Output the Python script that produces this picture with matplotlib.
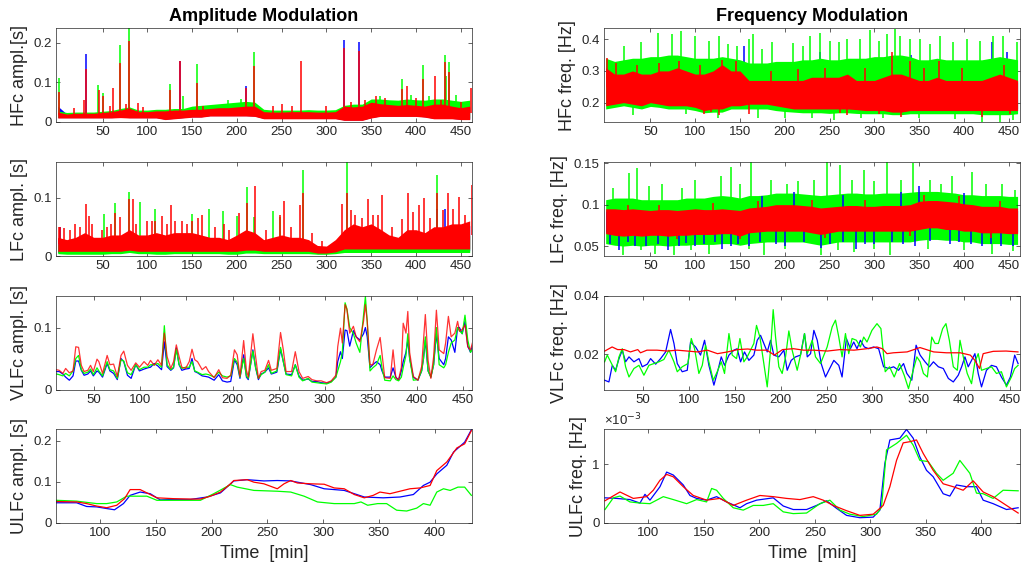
import numpy as np
import matplotlib
matplotlib.use("Agg")
import matplotlib.pyplot as plt
from matplotlib.ticker import FormatStrFormatter

plt.rcParams["font.family"] = ["Liberation Sans", "DejaVu Sans"]

BLUE = (0, 0, 1)
GREEN = (0, 1, 0)
RED = (1, 0, 0)
INK = "#262626"

# ---- noisy components: band edges read every 10 min (0..460) ----
t_band = np.arange(0, 461, 10)

# HFc amplitude [s]
hfa_r_lo = [.010, .010, .010, .010, .010, .010, .010, .011, .010, .010,
            .010, .010, .006, .008, .010, .012, .012, .015, .015, .015,
            .015, .015, .014, .008, .008, .008, .008, .008, .008, .008,
            .008, .008, .004, .004, .004, .010, .014, .014, .014, .014,
            .014, .012, .008, .008, .008, .006, .006]
hfa_r_hi = [.025, .020, .022, .022, .022, .024, .026, .030, .035, .026,
            .026, .028, .028, .030, .030, .032, .032, .034, .036, .036,
            .038, .040, .040, .026, .025, .025, .026, .026, .026, .025,
            .025, .026, .040, .038, .040, .050, .046, .044, .042, .044,
            .042, .040, .045, .045, .040, .036, .040]
hfa_g_lo = [.012, .012, .012, .012, .012, .012, .012, .013, .012, .012,
            .012, .012, .008, .010, .012, .015, .016, .018, .018, .018,
            .018, .018, .016, .010, .010, .010, .010, .010, .010, .010,
            .010, .010, .008, .008, .008, .014, .018, .018, .018, .016,
            .016, .014, .012, .012, .010, .010, .010]
hfa_g_hi = [.028, .024, .025, .025, .025, .027, .029, .034, .038, .030,
            .030, .032, .032, .034, .034, .040, .042, .044, .046, .048,
            .050, .052, .050, .032, .030, .030, .030, .030, .031, .030,
            .030, .031, .042, .045, .045, .058, .058, .056, .055, .058,
            .056, .055, .058, .058, .055, .052, .055]
hfa_b_lo = [.011, .011, .011, .011, .011, .011, .011, .012, .011, .011,
            .011, .011, .007, .009, .011, .013, .013, .016, .016, .016,
            .016, .016, .015, .009, .009, .009, .009, .009, .009, .009,
            .009, .009, .005, .005, .005, .011, .015, .015, .015, .015,
            .015, .013, .009, .009, .009, .007, .007]
hfa_b_hi = [.040, .020, .020, .020, .020, .022, .024, .028, .032, .024,
            .024, .026, .026, .028, .028, .030, .030, .032, .034, .034,
            .036, .038, .038, .024, .023, .023, .024, .024, .024, .023,
            .023, .024, .038, .036, .038, .046, .044, .042, .040, .042,
            .040, .038, .042, .042, .038, .034, .038]
hfa_r_spk = [(1, .075), (29, .055), (32, .134), (46, .080), (50, .065), (62, .085),
             (69, .149), (80, .203), (90, .048), (125, .080), (137, .153), (155, .098),
             (210, .085), (219, .140), (272, .153), (320, .187), (336, .179), (384, .083),
             (390, .090), (408, .109), (421, .115), (432, .151), (437, .125), (461, .085),
             (18, .035), (58, .040), (76, .045), (95, .038), (162, .040), (240, .040),
             (250, .045), (262, .040), (300, .040), (327, .050), (343, .055), (355, .065),
             (365, .060), (400, .060), (428, .055), (450, .050)]
hfa_g_spk = [(1, .110), (45, .093), (50, .072), (69, .194), (80, .236), (125, .095),
             (140, .065), (155, .147), (219, .176), (384, .108), (408, .143), (432, .168),
             (434, .117), (437, .151), (445, .068), (190, .055), (205, .058), (360, .065),
             (395, .068), (415, .065)]
hfa_b_spk = [(32, .172), (137, .155), (210, .090), (320, .207), (336, .202)]

# LFc amplitude [s]
lfa_r_lo = [.008, .008, .008, .008, .008, .008, .008, .008, .010, .008,
            .008, .008, .008, .008, .008, .008, .008, .008, .008, .008,
            .008, .010, .010, .008, .008, .008, .008, .008, .008, .005,
            .005, .007, .012, .012, .012, .012, .012, .012, .012, .012,
            .012, .012, .012, .012, .012, .012, .012]
lfa_r_hi = [.032, .028, .032, .040, .032, .032, .036, .036, .045, .036,
            .036, .040, .036, .040, .040, .040, .036, .032, .032, .028,
            .036, .045, .040, .028, .032, .036, .032, .032, .028, .018,
            .017, .028, .045, .055, .050, .055, .046, .036, .032, .045,
            .045, .040, .050, .050, .055, .055, .060]
lfa_g_lo = [.004, .003, .003, .003, .003, .003, .004, .004, .006, .004,
            .004, .003, .003, .004, .004, .004, .004, .004, .004, .003,
            .003, .005, .005, .004, .004, .004, .004, .004, .004, .003,
            .003, .004, .006, .006, .006, .006, .006, .006, .006, .006,
            .006, .006, .006, .006, .006, .006, .006]
lfa_g_hi = [.020, .016, .018, .022, .018, .018, .020, .020, .030, .020,
            .020, .022, .020, .022, .022, .022, .020, .018, .018, .016,
            .020, .025, .022, .016, .018, .020, .018, .018, .016, .012,
            .012, .016, .025, .030, .028, .030, .028, .025, .022, .028,
            .028, .025, .030, .030, .032, .032, .035]
lfa_b_lo = [.006, .005, .005, .005, .005, .005, .006, .006, .008, .006,
            .006, .005, .005, .006, .006, .006, .006, .006, .006, .005,
            .005, .007, .007, .006, .006, .006, .006, .006, .006, .004,
            .004, .006, .009, .009, .009, .009, .009, .009, .009, .009,
            .009, .009, .009, .009, .009, .009, .009]
lfa_b_hi = [.030, .024, .028, .034, .028, .028, .030, .030, .040, .030,
            .030, .034, .030, .034, .034, .034, .030, .028, .028, .024,
            .030, .038, .034, .024, .028, .030, .028, .028, .024, .016,
            .015, .024, .040, .048, .044, .048, .040, .032, .028, .040,
            .040, .036, .044, .044, .048, .048, .052]
lfa_r_spk = [(3, .050), (19, .055), (31, .089), (35, .068), (64, .073), (70, .067),
             (79, .098), (84, .098), (100, .060), (109, .060), (116, .068), (127, .087),
             (131, .060), (150, .060), (161, .070), (186, .055), (202, .074), (211, .090),
             (220, .119), (248, .070), (253, .094), (270, .087), (274, .107), (317, .089),
             (323, .107), (328, .078), (347, .097), (352, .070), (362, .105), (384, .064),
             (391, .107), (403, .087), (409, .100), (423, .107), (430, .078), (436, .108),
             (441, .080), (448, .101), (463, .121),
             (1, .050), (7, .048), (14, .045), (25, .050), (38, .055), (49, .045),
             (55, .050), (59, .055), (87, .055), (105, .060), (122, .055), (139, .060),
             (144, .055), (157, .065), (176, .050), (191, .045), (232, .045), (261, .050),
             (284, .040), (295, .025), (332, .070), (340, .065), (358, .070), (373, .050),
             (397, .075), (416, .065), (455, .070)]
lfa_g_spk = [(52, .072), (64, .090), (79, .110), (92, .093), (109, .080), (150, .071),
             (169, .080), (185, .077), (200, .068), (211, .118), (219, .067), (240, .077),
             (248, .066), (274, .147), (323, .160), (423, .138)]
lfa_b_spk = [(2, .050), (80, .045), (423, .080), (433, .080)]

# HFc frequency [Hz]
hff_r_lo = [.190, .195, .200, .195, .190, .200, .195, .190, .190, .190,
            .185, .175, .180, .180, .190, .190, .195, .195, .195, .190,
            .185, .180, .180, .180, .180, .180, .180, .180, .178, .175,
            .175, .175, .170, .170, .175, .175, .175, .175, .175, .175,
            .175, .175, .175, .175, .175, .175, .175]
hff_r_hi = [.310, .290, .290, .300, .290, .290, .300, .300, .310, .300,
            .290, .290, .300, .320, .300, .300, .270, .270, .270, .270,
            .270, .270, .270, .280, .280, .280, .280, .290, .270, .270,
            .270, .280, .290, .290, .280, .270, .270, .280, .270, .270,
            .270, .270, .270, .280, .290, .280, .270]
hff_g_lo = [.180, .185, .190, .185, .180, .188, .185, .180, .180, .180,
            .175, .168, .170, .170, .180, .180, .180, .180, .180, .175,
            .172, .170, .168, .168, .168, .166, .168, .168, .166, .165,
            .165, .165, .162, .162, .165, .165, .165, .165, .165, .165,
            .165, .165, .162, .162, .162, .162, .165]
hff_g_hi = [.340, .330, .335, .340, .340, .345, .345, .350, .350, .345,
            .340, .340, .340, .345, .340, .335, .325, .325, .325, .330,
            .330, .330, .335, .335, .340, .335, .335, .340, .340, .340,
            .345, .345, .350, .350, .345, .335, .335, .340, .335, .335,
            .335, .335, .335, .340, .345, .340, .335]
hff_b_lo = [.195, .200, .205, .200, .195, .205, .200, .195, .195, .195,
            .190, .180, .185, .185, .195, .195, .200, .200, .200, .195,
            .190, .185, .185, .185, .185, .185, .185, .185, .183, .180,
            .180, .180, .175, .175, .180, .180, .180, .180, .180, .180,
            .180, .180, .180, .180, .180, .180, .180]
hff_b_hi = [.300, .285, .285, .295, .285, .285, .295, .295, .305, .295,
            .285, .285, .295, .315, .295, .295, .265, .265, .265, .265,
            .265, .265, .265, .275, .275, .275, .275, .285, .265, .265,
            .265, .275, .285, .285, .275, .265, .265, .275, .265, .265,
            .265, .265, .265, .275, .285, .275, .265]
hff_r_spk = [(1, .340), (110, .165), (127, .160), (130, .335), (160, .165), (270, .160),
             (320, .360), (330, .155), (340, .330), (372, .330), (420, .155),
             (12, .325), (35, .320), (60, .325), (82, .330), (105, .320), (118, .170),
             (145, .330), (185, .300), (215, .305), (245, .310), (262, .168), (290, .310),
             (305, .165), (355, .310), (398, .310), (445, .320), (452, .165)]
hff_g_spk = [(59, .420), (74, .415), (84, .425), (100, .410), (127, .410), (147, .378),
             (160, .400), (164, .415), (186, .390), (209, .388), (228, .410), (239, .420),
             (261, .390), (284, .400), (295, .430), (314, .415), (323, .433), (329, .410),
             (351, .400), (373, .410), (388, .390), (403, .400), (433, .410), (444, .410),
             (459, .390), (126, .150), (200, .150), (255, .145), (310, .150), (420, .140),
             (440, .140), (455, .145), (20, .380), (40, .390), (115, .395), (137, .385),
             (175, .370), (220, .380), (250, .395), (270, .400), (305, .395), (340, .400),
             (362, .385), (418, .395), (30, .160), (90, .165), (170, .150), (230, .150),
             (285, .150), (350, .150), (390, .148)]
hff_b_spk = [(154, .380), (239, .360), (341, .350), (432, .390), (448, .360)]

# LFc frequency [Hz]
lff_r_lo = [.065, .063, .062, .063, .062, .063, .063, .062, .063, .063,
            .064, .064, .064, .065, .065, .062, .066, .067, .068, .068,
            .068, .068, .068, .066, .064, .066, .068, .068, .068, .068,
            .068, .068, .068, .068, .068, .070, .072, .072, .070, .070,
            .068, .068, .066, .066, .066, .065, .065]
lff_r_hi = [.095, .095, .094, .095, .094, .093, .094, .094, .093, .094,
            .095, .094, .094, .095, .094, .093, .096, .097, .098, .100,
            .100, .100, .099, .098, .096, .097, .098, .099, .099, .098,
            .098, .099, .099, .099, .100, .104, .105, .105, .104, .103,
            .101, .100, .098, .098, .098, .096, .096]
lff_b_lo = [.067, .065, .064, .065, .064, .065, .065, .064, .065, .065,
            .066, .066, .066, .067, .067, .064, .068, .069, .070, .070,
            .070, .070, .070, .068, .066, .068, .070, .070, .070, .070,
            .070, .070, .070, .070, .070, .072, .074, .074, .072, .072,
            .070, .070, .068, .068, .068, .067, .067]
lff_b_hi = [.092, .092, .091, .092, .091, .090, .091, .091, .090, .091,
            .092, .091, .091, .092, .091, .090, .093, .094, .095, .097,
            .097, .097, .096, .095, .093, .094, .095, .096, .096, .095,
            .095, .096, .096, .096, .097, .101, .102, .102, .101, .100,
            .098, .097, .095, .095, .095, .093, .093]
lff_g_lo = [.053, .051, .050, .051, .050, .051, .051, .050, .051, .051,
            .052, .052, .052, .053, .053, .051, .053, .054, .055, .055,
            .055, .055, .055, .053, .051, .053, .055, .055, .055, .055,
            .055, .055, .055, .055, .055, .057, .058, .058, .057, .057,
            .055, .055, .053, .053, .053, .052, .052]
lff_g_hi = [.106, .108, .108, .108, .106, .106, .106, .106, .106, .108,
            .108, .108, .110, .111, .110, .108, .111, .111, .112, .114,
            .114, .114, .113, .112, .111, .112, .113, .114, .114, .113,
            .113, .114, .114, .114, .115, .116, .116, .116, .115, .114,
            .112, .112, .111, .111, .111, .110, .110]
lff_g_spk = [(26, .138), (35, .144), (63, .125), (100, .130), (129, .135), (140, .146),
             (162, .152), (185, .130), (203, .125), (233, .130), (247, .151), (262, .148),
             (288, .142), (314, .151), (343, .150), (362, .130), (387, .135), (409, .140),
             (443, .125), (19, .039), (55, .041), (76, .039), (115, .041), (177, .039),
             (240, .039), (277, .043), (317, .039), (432, .041), (8, .120), (48, .122),
             (85, .120), (150, .125), (215, .128), (275, .130), (300, .128), (330, .130),
             (375, .125), (425, .125), (457, .118), (40, .045), (95, .045), (160, .046),
             (200, .046), (260, .045), (300, .046), (360, .046), (400, .045), (455, .044)]
lff_b_spk = [(15, .045), (70, .045), (130, .046), (200, .050), (240, .048), (280, .047),
             (345, .050), (420, .050), (455, .050), (350, .122), (210, .115), (45, .050),
             (100, .050), (160, .050), (300, .052), (385, .052), (5, .052), (25, .055),
             (33, .050), (58, .052), (82, .050), (90, .054), (110, .052), (122, .055),
             (140, .050), (148, .053), (172, .055), (190, .052), (222, .055), (250, .052),
             (265, .055), (290, .053), (320, .055), (332, .052), (362, .056), (395, .055),
             (408, .053), (430, .052), (442, .050), (175, .110), (265, .112), (330, .115),
             (400, .114)]
lff_r_spk = [(25, .100), (60, .100), (120, .102), (170, .104), (230, .106), (290, .106),
             (355, .112), (395, .110), (440, .104), (80, .058), (150, .058), (245, .060),
             (340, .062), (430, .060)]

# ---- VLFc amplitude [s] ----
t_vlfa = [9, 12, 16, 19, 23, 27, 30, 33, 36, 39,
          43, 46, 49, 53, 55, 59, 64, 67, 71, 75,
          79, 82, 86, 90, 95, 99, 104, 108, 111, 115,
          119, 123, 126, 129, 133, 136, 139, 142, 145, 149,
          153, 156, 159, 162, 167, 171, 174, 180, 185, 189,
          194, 198, 202, 205, 208, 212, 215, 217, 222, 225,
          228, 231, 235, 239, 242, 248, 252, 255, 258, 264,
          268, 272, 276, 282, 286, 291, 296, 302, 307, 312,
          314, 317, 319, 322, 324, 327, 331, 334, 338, 342,
          344, 346, 349, 352, 356, 360, 362, 365, 371, 374,
          377, 380, 383, 385, 388, 390, 392, 396, 401, 405,
          407, 409, 412, 415, 418, 421, 424, 429, 431, 434,
          437, 441, 444, 446, 449, 452, 455, 458, 460]
vlfa_red = [.032, .031, .026, .034, .027, .030, .069, .068, .039, .029,
            .031, .039, .029, .049, .045, .026, .055, .040, .041, .021,
            .055, .062, .039, .031, .043, .036, .045, .039, .047, .039,
            .048, .039, .091, .053, .034, .045, .072, .053, .036, .034,
            .045, .065, .048, .045, .032, .037, .029, .019, .032, .019,
            .018, .023, .064, .056, .021, .079, .031, .020, .090, .053,
            .018, .029, .031, .047, .031, .034, .092, .064, .029, .029,
            .061, .029, .018, .021, .016, .014, .014, .011, .014, .023,
            .069, .099, .075, .137, .129, .091, .102, .085, .077, .110,
            .137, .110, .040, .040, .064, .084, .058, .019, .018, .064,
            .019, .016, .036, .107, .091, .126, .060, .021, .015, .037,
            .080, .121, .047, .018, .053, .128, .064, .058, .075, .118,
            .085, .091, .110, .094, .097, .104, .069, .064, .075]
vlfa_blue = [.029, .029, .025, .020, .015, .022, .046, .046, .031, .023,
             .025, .030, .022, .030, .028, .020, .042, .030, .026, .016,
             .050, .045, .023, .018, .040, .030, .033, .035, .036, .042,
             .038, .032, .077, .037, .031, .035, .067, .040, .031, .033,
             .034, .050, .029, .027, .022, .021, .020, .015, .024, .014,
             .012, .013, .048, .040, .018, .056, .020, .016, .064, .035,
             .016, .025, .028, .035, .025, .028, .065, .045, .025, .024,
             .040, .022, .015, .017, .013, .013, .011, .010, .013, .020,
             .045, .061, .050, .096, .095, .070, .095, .085, .080, .090,
             .100, .085, .035, .040, .045, .040, .030, .020, .020, .035,
             .020, .015, .030, .045, .060, .080, .050, .020, .015, .030,
             .050, .080, .030, .020, .040, .090, .050, .040, .050, .085,
             .080, .060, .100, .100, .090, .110, .070, .060, .070]
vlfa_green = [.025, .024, .022, .026, .022, .030, .050, .055, .032, .026,
              .028, .033, .024, .035, .030, .022, .045, .032, .030, .018,
              .048, .046, .027, .024, .040, .032, .036, .036, .040, .040,
              .042, .036, .103, .040, .032, .036, .065, .040, .034, .036,
              .036, .045, .030, .028, .024, .025, .024, .020, .028, .022,
              .020, .022, .050, .044, .020, .050, .022, .018, .062, .035,
              .018, .024, .028, .040, .026, .030, .068, .045, .024, .022,
              .040, .020, .014, .018, .012, .011, .010, .009, .012, .020,
              .030, .045, .060, .140, .130, .100, .090, .075, .060, .120,
              .150, .110, .030, .035, .040, .055, .035, .015, .014, .022,
              .016, .014, .020, .035, .055, .090, .050, .015, .016, .030,
              .050, .085, .030, .020, .040, .100, .040, .035, .040, .060,
              .075, .080, .100, .095, .090, .120, .080, .060, .065]

# ---- ULFc amplitude [s] ----
ulfa_red_t = [61, 79, 88, 97, 106, 115, 122, 127, 136, 142, 151, 166, 181, 190, 199,
              208, 217, 220, 232, 238, 247, 259, 265, 271, 277, 289, 301, 310, 319, 328,
              337, 345, 351, 360, 369, 378, 387, 396, 402, 411, 420, 427, 433]
ulfa_red = [.052, .051, .047, .041, .037, .043, .059, .081, .081, .073, .061, .059, .058, .058, .065,
            .075, .095, .103, .105, .099, .095, .083, .095, .103, .097, .095, .094, .085, .083, .069,
            .061, .067, .075, .071, .077, .083, .085, .091, .127, .148, .182, .192, .224]
ulfa_blue_t = [61, 79, 88, 97, 106, 113, 121, 127, 136, 145, 154, 166, 181, 196, 208, 220, 232,
               247, 259, 271, 289, 301, 319, 337, 354, 369, 381, 390, 396, 402, 411, 417, 427, 433]
ulfa_blue = [.049, .049, .040, .039, .035, .032, .047, .067, .075, .071, .056, .057, .057, .063, .073,
             .102, .105, .102, .103, .102, .093, .083, .079, .063, .061, .063, .069, .091, .099, .119,
             .140, .172, .196, .226]
ulfa_green_t = [61, 79, 97, 106, 115, 124, 142, 151, 166, 190, 202, 217, 223, 238, 259, 271, 283,
                295, 310, 328, 334, 340, 349, 357, 366, 375, 384, 390, 396, 402, 408, 414, 421,
                427, 433]
ulfa_green = [.055, .053, .047, .047, .051, .065, .065, .055, .055, .055, .071, .093, .087, .079,
              .077, .075, .065, .051, .047, .047, .051, .043, .047, .047, .031, .029, .036, .047,
              .043, .075, .083, .079, .087, .087, .067]

# ---- VLFc frequency [Hz] ----
vlff_blue_t = [7.8, 12.5, 16.2, 19.8, 23.5, 27.1, 30.7, 34.4, 39.8, 45.3,
               48.9, 54.4, 58, 63.5, 68.9, 74.4, 79.8, 83.5, 87.1, 92.5,
               98, 101.6, 107.1, 112.5, 116.9, 121.6, 127.1, 131.5, 135.1, 138.7,
               143.5, 148.9, 152.5, 156.2, 160.5, 165.3, 170.7, 174.4, 178, 181.6,
               185.3, 188.9, 192.5, 198, 203.5, 207.1, 211.5, 216.2, 221.6, 226,
               229, 232.6, 236.2, 239.9, 244.2, 248.9, 252.5, 258, 263.4, 267,
               271.7, 276.1, 279.7, 283.3, 287, 291.3, 296, 301.4, 306.9, 312.3,
               317.8, 323.2, 328.6, 334.1, 337.7, 343.1, 347.8, 352.2, 357.6, 362.3,
               366.7, 372.1, 377.5, 383, 388.4, 393.8, 397.5, 401.1, 404.7, 408.3,
               412, 415.6, 419.2, 424.6, 430.1, 435.5, 440.9, 446.4, 450.7, 455.4,
               459.1]
vlff_blue = [.0111, .0105, .0162, .0145, .0185, .0214, .0174, .0191, .0174, .0185,
             .0157, .0166, .0185, .0166, .0185, .0208, .0285, .0237, .0168, .0140,
             .0145, .0242, .0225, .0197, .0248, .0162, .0094, .0145, .0191, .0162,
             .0197, .0214, .0219, .0174, .0208, .0179, .0197, .0248, .0265, .0237,
             .0208, .0248, .0197, .0191, .0214, .0145, .0179, .0191, .0197, .0271,
             .0191, .0202, .0282, .0248, .0168, .0122, .0145, .0179, .0162, .0122,
             .0254, .0219, .0242, .0219, .0248, .0225, .0219, .0225, .0219, .0157,
             .0151, .0157, .0145, .0168, .0134, .0111, .0231, .0197, .0174, .0157,
             .0174, .0157, .0151, .0117, .0105, .0128, .0157, .0191, .0157, .0179,
             .0202, .0134, .0088, .0145, .0162, .0157, .0122, .0094, .0122, .0197,
             .0168]
vlff_green_t = [7.8, 10.7, 14.4, 19.8, 23.5, 27.1, 30.7, 34.4, 39.8, 45.3,
                50.7, 56.2, 61.6, 67.1, 72.5, 78, 83.5, 87.1, 92.5, 98.7,
                102.4, 106, 110.7, 114.4, 118, 121.6, 126.4, 130.7, 135.1, 138.7,
                143.5, 147.1, 151.8, 155.5, 159.8, 163.5, 167.1, 170.7, 173.6, 177.3,
                181.6, 185.3, 188.9, 191.8, 194.4, 198, 201.6, 205.3, 208.9, 212.5,
                218, 222.4, 226,
                229, 234.4, 238, 243.5, 250.7, 256.2, 259.8, 263.4, 267, 270.7,
                274.3, 277.9, 282.6, 287, 290.6, 294.2, 299.6, 305.1, 309.4, 314.1,
                318.8, 323.9, 329.7, 334.8, 339.5, 344.2, 348.6, 352.2, 355.8, 360.1,
                364.9, 368.5, 372.1, 376.8, 380.4, 384.1, 388.4, 392.8, 395.7, 399.3,
                403.6, 408.3, 412, 415.6, 419.2, 424.6, 430.1, 435.5, 440.9, 446.4,
                451.8, 455.4, 459.1]
vlff_green = [.0174, .0197, .0174, .0140, .0191, .0219, .0157, .0122, .0151, .0162,
              .0128, .0162, .0168, .0174, .0182, .0214, .0174, .0140, .0157, .0168,
              .0254, .0219, .0134, .0162, .0231, .0174, .0111, .0140, .0174, .0134,
              .0271, .0197, .0185, .0254, .0174, .0191, .0214, .0237, .0299, .0259,
              .0168, .0088, .0214, .0353, .0259, .0157, .0134, .0191, .0280, .0214,
              .0145, .0208, .0271,
              .0202, .0248, .0191, .0168, .0225, .0294, .0317, .0259, .0191, .0271,
              .0202, .0254, .0248, .0225, .0259, .0242, .0282, .0305, .0288, .0140,
              .0157, .0122, .0168, .0128, .0082, .0140, .0191, .0174, .0134, .0122,
              .0259, .0237, .0237, .0288, .0305, .0248, .0157, .0145, .0248, .0191,
              .0134, .0099, .0174, .0202, .0145, .0151, .0157, .0134, .0140, .0088,
              .0122, .0151, .0162]
vlff_red_t = [8, 16, 22, 29, 36, 44, 47, 54, 65, 76, 87, 98, 109, 120, 131, 142, 153, 164,
              174, 185, 193, 202, 214, 225, 236, 251, 265, 280, 294, 305, 311, 316, 323,
              338, 352, 367, 381, 396, 407, 412, 417, 421, 432, 446, 459]
vlff_red = [.0211, .0225, .0216, .0216, .0208, .0216, .0205, .0214, .0214, .0211, .0214,
            .0211, .0208, .0214, .0202, .0208, .0216, .0218, .0214, .0214, .0197, .0216,
            .0219, .0214, .0214, .0211, .0216, .0214, .0219, .0225, .0219, .0202, .0205,
            .0208, .0223, .0208, .0205, .0205, .0197, .0179, .0151, .0202, .0210, .0211,
            .0208]

# ---- ULFc frequency [x1e-3 Hz] ----
ulff_red_t = [61, 74.5, 86.5, 98.5, 104.5, 110.5, 116.5, 122.5, 131.5, 140.5,
              152.5, 164.5, 176.5, 188.5, 200.5, 212.5, 224.5, 236.5, 248.5, 257.5,
              266.5, 278.5, 290.5, 302.5, 311.5, 317.5, 323.5, 329.5, 335.5, 341.5,
              347.5, 356.5, 365.5, 374.5, 383.5, 392.5, 401.5, 410.5, 422.5, 433]
ulff_red = [.38, .53, .42, .45, .56, .73, .83, .79, .62, .47,
            .39, .42, .30, .39, .47, .45, .42, .40, .45, .39,
            .30, .21, .13, .15, .30, .62, 1.07, 1.37, 1.39, 1.42,
            1.19, .90, .67, .62, .56, .72, .53, .45, .30, .17]
ulff_blue_t = [61, 71.5, 83.5, 92.5, 97, 101.5, 110.5, 116.5, 122.5, 131.5,
               137.5, 143.5, 152.5, 161.5, 170.5, 182.5, 188.5, 197.5, 212.5, 221.5,
               230.5, 242.5, 251.5, 260.5, 269.5, 278.5, 290.5, 302.5, 308.5, 313,
               317.5, 326.5, 332.5, 338.5, 344.5, 350.5, 356.5, 365.5, 371.5, 377.5,
               386.5, 395.5, 401.5, 410.5, 422.5, 433]
ulff_blue = [.43, .42, .40, .34, .49, .39, .62, .87, .82, .65,
             .47, .42, .39, .45, .36, .26, .33, .39, .43, .29,
             .23, .23, .30, .38, .25, .13, .09, .10, .22, 1.02,
             1.42, 1.45, 1.60, 1.45, 1.13, .90, .79, .50, .46, .65,
             .62, .62, .39, .33, .23, .26]
ulff_green_t = [61, 68.5, 74.5, 83.5, 92.5, 101.5, 113.5, 122.5, 134.5, 143.5,
                152.5, 157, 161.5, 167.5, 176.5, 185.5, 194.5, 203.5, 212.5, 221.5,
                230.5, 242.5, 254.5, 263.5, 272.5, 281.5, 293.5, 305.5, 310, 314.5,
                323.5, 332.5, 338.5, 344.5, 352, 359.5, 365.5, 374.5, 380.5, 389.5,
                395.5, 401.5, 410.5, 419.5, 433]
ulff_green = [.23, .43, .46, .36, .34, .33, .45, .40, .33, .40,
              .36, .59, .56, .42, .26, .22, .30, .30, .33, .19,
              .16, .17, .33, .39, .22, .15, .11, .15, .27, 1.25,
              1.36, 1.50, 1.33, 1.07, 1.05, .85, .73, .85, 1.07, .85,
              .51, .50, .42, .56, .55]


def band(ax, lo, hi, spikes, color, z):
    lo = np.array(lo)
    hi = np.array(hi)
    ax.fill_between(t_band, lo, hi, color=color, lw=0, zorder=z)
    if spikes:
        st = [s[0] for s in spikes]
        sv = [s[1] for s in spikes]
        mid = np.interp(st, t_band, (lo + hi) / 2)
        ax.vlines(st, mid, sv, color=color, lw=1.1, zorder=z)


def style(ax, xlim, ylim, xticks, yticks, ylabel):
    ax.set_xlim(*xlim)
    ax.set_ylim(*ylim)
    ax.set_xticks(xticks)
    ax.set_yticks(yticks)
    ax.xaxis.set_major_formatter(FormatStrFormatter("%g"))
    ax.yaxis.set_major_formatter(FormatStrFormatter("%g"))
    ax.tick_params(direction="in", top=True, right=True, length=3, width=0.5,
                   labelsize=9.5, colors=INK, pad=3)
    for s in ax.spines.values():
        s.set_color(INK)
        s.set_linewidth(0.5)
        s.set_zorder(10)
    ax.set_ylabel(ylabel, fontsize=13, color=INK, labelpad=4)


fig = plt.figure(figsize=(10.27, 5.74), dpi=100)
W = 0.405
H = 0.163
XL, XR = 0.0545, 0.588
ROWS = [0.7875, 0.554, 0.3214, 0.0889]
axs = [[fig.add_axes([x, y, W, H]) for x in (XL, XR)] for y in ROWS]

xt_full = np.arange(50, 451, 50)
xt_ulf = np.arange(100, 401, 50)

# row 1: HFc
ax = axs[0][0]
band(ax, hfa_b_lo, hfa_b_hi, hfa_b_spk, BLUE, 1)
band(ax, hfa_g_lo, hfa_g_hi, hfa_g_spk, GREEN, 2)
band(ax, hfa_r_lo, hfa_r_hi, hfa_r_spk, RED, 3)
style(ax, (-2, 462.5), (0, 0.236), xt_full, [0, 0.1, 0.2], "HFc ampl.[s]")
ax.set_title("Amplitude Modulation", fontsize=13, fontweight="bold", pad=5)

ax = axs[0][1]
band(ax, hff_b_lo, hff_b_hi, hff_b_spk, BLUE, 1)
band(ax, hff_g_lo, hff_g_hi, hff_g_spk, GREEN, 2)
band(ax, hff_r_lo, hff_r_hi, hff_r_spk, RED, 3)
style(ax, (-2, 462.5), (0.139, 0.434), xt_full, [0.2, 0.3, 0.4], "HFc freq. [Hz]")
ax.set_title("Frequency Modulation", fontsize=13, fontweight="bold", pad=5)

# row 2: LFc
ax = axs[1][0]
band(ax, lfa_b_lo, lfa_b_hi, lfa_b_spk, BLUE, 1)
band(ax, lfa_g_lo, lfa_g_hi, lfa_g_spk, GREEN, 2)
band(ax, lfa_r_lo, lfa_r_hi, lfa_r_spk, RED, 3)
style(ax, (-2, 462.5), (0, 0.16), xt_full, [0, 0.1], "LFc ampl. [s]")

ax = axs[1][1]
band(ax, lff_g_lo, lff_g_hi, lff_g_spk, GREEN, 1)
band(ax, lff_b_lo, lff_b_hi, lff_b_spk, BLUE, 2)
band(ax, lff_r_lo, lff_r_hi, lff_r_spk, RED, 3)
style(ax, (-2, 462.5), (0.038, 0.151), xt_full, [0.05, 0.1, 0.15], "LFc freq. [Hz]")

# row 3: VLFc
ax = axs[2][0]
ax.plot(t_vlfa, vlfa_blue, color=BLUE, lw=0.9)
ax.plot(t_vlfa, vlfa_green, color=GREEN, lw=0.9)
ax.plot(t_vlfa, vlfa_red, color=RED, lw=0.9, alpha=0.8)
style(ax, (8.5, 459.5), (0, 0.151), xt_full, [0, 0.1], "VLFc ampl. [s]")

ax = axs[2][1]
ax.plot(vlff_blue_t, vlff_blue, color=BLUE, lw=0.9)
ax.plot(vlff_green_t, vlff_green, color=GREEN, lw=0.9)
ax.plot(vlff_red_t, vlff_red, color=RED, lw=0.9)
style(ax, (7, 461), (0.0079, 0.04), xt_full, [0.02, 0.04], "VLFc freq. [Hz]")

# row 4: ULFc
ax = axs[3][0]
ax.plot(ulfa_blue_t, ulfa_blue, color=BLUE, lw=0.9)
ax.plot(ulfa_green_t, ulfa_green, color=GREEN, lw=0.9)
ax.plot(ulfa_red_t, ulfa_red, color=RED, lw=0.9)
style(ax, (60.5, 433.5), (0, 0.227), xt_ulf, [0, 0.1, 0.2], "ULFc ampl. [s]")
ax.set_xlabel("Time  [min]", fontsize=13, color=INK)

ax = axs[3][1]
ax.plot(ulff_blue_t, np.array(ulff_blue) * 1e-3, color=BLUE, lw=0.9)
ax.plot(ulff_green_t, np.array(ulff_green) * 1e-3, color=GREEN, lw=0.9)
ax.plot(ulff_red_t, np.array(ulff_red) * 1e-3, color=RED, lw=0.9)
style(ax, (60, 434.5), (0, 1.6e-3), xt_ulf, [0, 1e-3], "ULFc freq. [Hz]")
ax.set_yticklabels(["0", "1"])
ax.text(0.0, 1.01, "×10$^{-3}$", transform=ax.transAxes, ha="left", va="bottom",
        fontsize=9.5, color=INK)
ax.set_xlabel("Time  [min]", fontsize=13, color=INK)

fig.savefig("out.png", dpi=100)
